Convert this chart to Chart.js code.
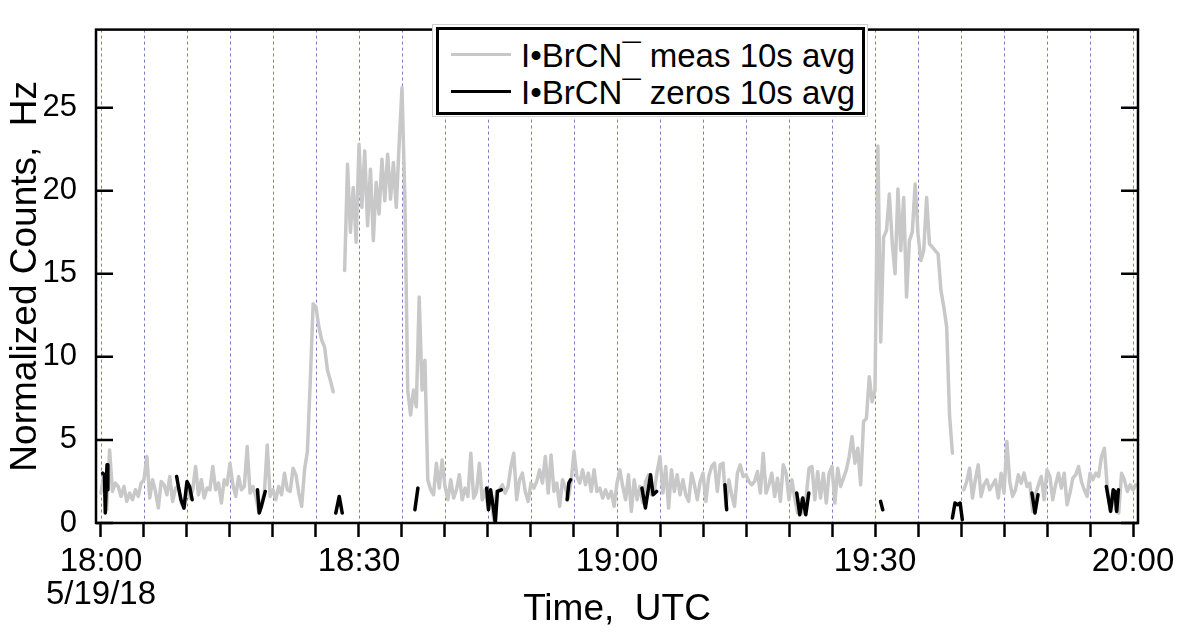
<!DOCTYPE html>
<html>
<head>
<meta charset="utf-8">
<title>I•BrCN¯ normalized counts</title>
<script src="https://cdn.jsdelivr.net/npm/chart.js@4.4.0/dist/chart.umd.min.js"></script>
<style>
  body { margin: 0; background: #fff; }
  #wrap { position: relative; width: 1184px; height: 632px; }
  #legend {
    position: absolute; left: 432px; top: 24px; width: 436px; height: 93px;
    box-sizing: border-box; border: 1px solid #cfcfcf; background: #fff;
  }
  #legend .box {
    position: absolute; left: 3px; top: 2px; right: 2px; bottom: 1px;
    border: 3px solid #000;
  }
  #legend .row { position: absolute; left: 0; height: 36px; width: 100%; }
  #legend .swatch { position: absolute; left: 12px; top: 16px; width: 60px; height: 3px; }
  #legend .label {
    position: absolute; left: 82px; top: 0; line-height: 36px; white-space: pre;
    font: 33px "Liberation Sans", Arial, sans-serif; color: #000;
  }
</style>
</head>
<body>
<div id="wrap">
  <canvas id="myChart" width="1184" height="632"></canvas>
  <div id="legend"><div class="box"></div></div>
</div>
<script>
// # ===============================
// # = data (minutes after 18:00 UTC, 5/19/18)
// # ===============================
const measStepMin = 20 / 60;   // one 10s-avg sample kept every 20 s
const measCounts = [
  1.8, 2.9, 0.8, 4.4, 1.9, 2.4, 2.2, 1.6, 2.2, 1.3, 1.8, 1.4, 2.0, 1.6, 2.4,
  2.6, 4.0, 1.5, 2.6, 1.9, 0.9, 2.5, 2.3, 1.7, 2.8, 1.3, 2.1, 2.2, 1.2, 0.9,
  2.4, 1.5, 2.0, 3.4, 1.7, 2.6, 1.5, 2.1, 2.0, 3.4, 2.0, 2.4, 1.2, 2.6, 2.3,
  3.6, 2.3, 1.6, 2.8, 2.0, 2.2, 4.6, 1.8, 2.2, 1.6, 0.7, 1.2, 1.8, 4.7, 1.6,
  2.0, 1.4, 2.2, 1.7, 3.0, 2.0, 1.9, 3.3, 2.9, 1.8, 1.0, 3.2, 4.3, 8.5, 13.2,
  13.0, 11.8, 11.0, 10.6, 9.2, 8.6, 7.9, null, null, null, 15.2, 21.6, 17.5, 20.2, 16.9,
  22.8, 19.0, 22.4, 17.9, 21.3, 17.0, 20.5, 18.6, 21.9, 19.4, 22.2, 19.5, 21.7, 19.0, 22.8,
  26.2, 19.6, 8.0, 6.5, 8.0, 7.0, 13.6, 8.0, 9.8, 2.6, 2.0, 1.7, 3.6, 2.1, 3.8,
  2.2, 1.4, 2.6, 1.5, 2.0, 2.9, 1.4, 2.1, 1.6, 4.2, 1.5, 1.9, 3.6, 1.4, 2.0,
  1.0, 1.6, 0.2, 1.9, 2.0, 2.3, 1.8, 2.2, 3.4, 4.2, 1.4, 2.6, 3.0, 1.9, 1.3,
  2.4, 2.1, 2.5, 3.2, 2.4, 4.0, 1.8, 4.1, 1.9, 2.4, 1.0, 2.6, 2.1, 1.5, 2.5,
  4.3, 2.8, 2.4, 3.2, 2.3, 3.0, 1.9, 3.2, 1.9, 2.1, 1.5, 2.0, 1.5, 1.9, 1.0,
  2.4, 3.2, 2.2, 1.4, 2.9, 0.7, 2.6, 1.4, 2.2, 1.2, 2.5, 2.9, 1.7, 1.9, 3.1,
  4.0, 1.8, 3.4, 0.9, 3.2, 1.9, 2.9, 1.7, 2.6, 1.7, 1.3, 3.0, 2.3, 1.4, 2.5,
  3.0, 1.3, 2.8, 3.4, 3.6, 1.9, 3.5, 3.6, 1.0, 2.6, 1.7, 1.0, 3.0, 3.5, 2.8,
  2.9, 2.5, 2.3, 2.5, 3.1, 1.8, 4.2, 1.8, 2.3, 3.0, 1.6, 2.7, 1.3, 3.5, 3.0,
  1.4, 2.6, 1.5, 0.6, 1.4, 0.6, 1.6, 3.3, 3.4, 1.4, 3.1, 1.5, 3.0, 1.2, 3.0,
  3.4, 1.2, 3.3, 2.2, 2.7, 3.2, 4.0, 5.2, 3.6, 4.5, 2.3, 6.1, 6.3, 8.8, 7.3,
  8.0, 22.7, 10.9, 17.2, 17.6, 19.8, 16.9, 15.0, 20.1, 16.4, 19.6, 13.6, 17.0, 17.5, 20.4,
  17.4, 15.8, 16.4, 19.6, 16.8, 16.6, 16.4, 16.2, 14.0, 13.0, 11.8, 6.5, 4.2, null, null,
  null, 2.0, 2.5, 3.3, 1.5, 2.6, 3.5, 1.6, 2.3, 2.6, 2.0, 2.3, 2.6, 1.5, 3.0,
  1.8, 4.9, 2.5, 1.6, 2.0, 2.9, 2.4, 3.0, 2.2, 2.4, 0.7, 1.7, 2.3, 2.8, 1.4,
  3.2, 2.8, 1.4, 2.3, 3.0, 2.1, 3.0, 1.1, 1.8, 2.7, 2.9, 3.4, 2.5, 2.0, 1.6,
  3.0, 2.6, 3.0, 2.8, 4.0, 4.5, 2.2, 0.8, 1.9, 0.8, 0.6, 3.0, 2.6, 1.9, 2.3,
  2.0, 2.3
];

// zero periods, a null count breaks the line between two periods
const zeroTimes = [
  0.2, 0.4, 0.5, 0.7, 0.8, 1.0,
  8.8, 9.0, 9.3, 9.65, 10.0, 10.3, 10.6, 10.8,
  18.2, 18.4, 18.65, 18.9, 19.1, 19.3,
  27.3, 27.7, 28.05, 28.2,
  36.5, 36.85, 37.0,
  44.85, 45.05, 45.3, 45.6, 45.85, 46.1, 46.55, 46.7,
  54.2, 54.4, 54.6, 54.8,
  62.9, 63.3, 63.9, 64.2, 64.6, 64.8,
  72.55, 72.75, 72.9,
  80.9, 81.25, 81.6, 81.95, 82.3, 82.5,
  90.65, 90.9, 91.0,
  99.0, 99.3, 99.6, 99.9, 100.15, 100.3,
  108.25, 108.6, 108.95, 109.1,
  116.9, 117.4, 117.7, 117.9, 118.1, 118.3
];
const zeroCounts = [
  3.0, 2.9, 0.6, 3.5, 2.0, null,
  2.8, 2.2, 1.4, 0.9, 2.5, 2.2, 1.4, null,
  2.0, 0.6, 1.0, 1.5, 1.9, null,
  0.6, 1.6, 0.6, null,
  0.8, 2.1, null,
  2.1, 0.8, 2.0, 1.0, 0.0, 1.9, 2.0, null,
  1.4, 2.4, 2.6, null,
  2.1, 0.9, 2.9, 1.7, 1.9, null,
  2.3, 0.8, null,
  1.8, 0.5, 1.5, 0.5, 1.8, null,
  1.3, 0.8, null,
  0.3, 1.2, 1.1, 1.2, 0.2, null,
  1.8, 0.6, 1.7, null,
  2.2, 0.7, 2.0, 1.9, 0.7, 2.0
];

const hourTicks = [0, 30, 60, 90, 120];
const hourLabels = ['18:00', '18:30', '19:00', '19:30', '20:00'];
const dateLabel = '5/19/18';
const countTicks = [0, 5, 10, 15, 20, 25];

const FONT = '"Liberation Sans", Arial, Helvetica, sans-serif';

// # ===============================
// # = frame, dashed 5 min lines, inward y ticks
// # ===============================
const framePlugin = {
  id: 'frame',
  beforeDatasetsDraw(chart) {
    const {ctx, chartArea: a, scales: {x}} = chart;
    ctx.save();
    ctx.strokeStyle = '#7c7cc6';
    ctx.lineWidth = 1;
    ctx.setLineDash([3, 3]);
    x.ticks.forEach(t => {
      const px = Math.round(x.getPixelForValue(t.value)) + 0.5;
      ctx.beginPath();
      ctx.moveTo(px, a.top);
      ctx.lineTo(px, a.bottom);
      ctx.stroke();
    });
    ctx.restore();
  },
  afterDatasetsDraw(chart) {
    const {ctx, chartArea: a, scales: {y}} = chart;
    ctx.save();
    ctx.strokeStyle = '#000';
    ctx.lineWidth = 2.5;
    ctx.strokeRect(a.left, a.top, a.right - a.left, a.bottom - a.top);
    countTicks.forEach(v => {
      const py = y.getPixelForValue(v);
      ctx.beginPath();
      ctx.moveTo(a.left, py); ctx.lineTo(a.left + 17, py);
      ctx.moveTo(a.right - 17, py); ctx.lineTo(a.right, py);
      ctx.stroke();
    });
    ctx.restore();
  }
};

var meas = measCounts.map((v, i) => ({x: i * measStepMin, y: v}));
var zeros = zeroTimes.map((t, i) => ({x: t, y: zeroCounts[i]}));

const ctx = document.getElementById('myChart');
var ch = new Chart(ctx, {
  type: 'line',
  data: {
    datasets: [{
      label: 'I•BrCN¯ zeros 10s avg',
      data: zeros,
      borderColor: '#000000',
      borderWidth: 3.5,
      order: 0
    }, {
      label: 'I•BrCN¯ meas 10s avg',
      data: meas,
      borderColor: '#c8c8c8',
      borderWidth: 3.5,
      order: 1
    }]
  },
  options: {
    responsive: false,
    animation: false,
    devicePixelRatio: 1,
    layout: { padding: { top: 7, right: 46, left: 0, bottom: 0 } },
    elements: {
      point: { radius: 0 },
      line: { tension: 0, borderJoinStyle: 'round', borderCapStyle: 'round' }
    },
    plugins: { legend: { display: false }, tooltip: { enabled: false } },
    scales: {
      x: {
        type: 'linear',
        min: -0.58,
        max: 120.58,
        border: { display: false },
        grid: { drawOnChartArea: false, drawTicks: true, tickLength: 14, tickColor: '#000', tickWidth: 2.5 },
        ticks: {
          stepSize: 5,
          includeBounds: false,
          autoSkip: false,
          maxRotation: 0,
          padding: 8,
          color: '#000',
          font: { family: FONT, size: 33, lineHeight: 1.0 },
          callback: function(value) {
            const i = hourTicks.indexOf(value);
            if (i < 0) return '';
            return i === 0 ? [hourLabels[i], dateLabel] : hourLabels[i];
          }
        },
        title: {
          display: true,
          text: 'Time,  UTC',
          color: '#000',
          font: { family: FONT, size: 37 },
          padding: { top: 0, bottom: 0 }
        },
        afterFit: function(scale) { scale.height = 109; }
      },
      y: {
        min: 0,
        max: 29.7,
        border: { display: false },
        grid: { display: false },
        ticks: {
          stepSize: 5,
          includeBounds: false,
          padding: 11,
          color: '#000',
          font: { family: FONT, size: 31 }
        },
        title: {
          display: true,
          text: 'Normalized Counts,  Hz',
          color: '#000',
          font: { family: FONT, size: 37 },
          padding: { top: 4, bottom: 0 }
        },
        afterFit: function(scale) { scale.width = 96; }
      }
    }
  },
  plugins: [framePlugin]
});

// legend rows, grey series first
const box = document.querySelector('#legend .box');
[1, 0].forEach((di, r) => {
  const ds = ch.data.datasets[di];
  const row = document.createElement('div');
  row.className = 'row';
  row.style.top = (7 + r * 37) + 'px';
  row.innerHTML = '<span class="swatch"></span><span class="label"></span>';
  row.querySelector('.swatch').style.background = ds.borderColor;
  row.querySelector('.label').textContent = ds.label;
  box.appendChild(row);
});
</script>
</body>
</html>
